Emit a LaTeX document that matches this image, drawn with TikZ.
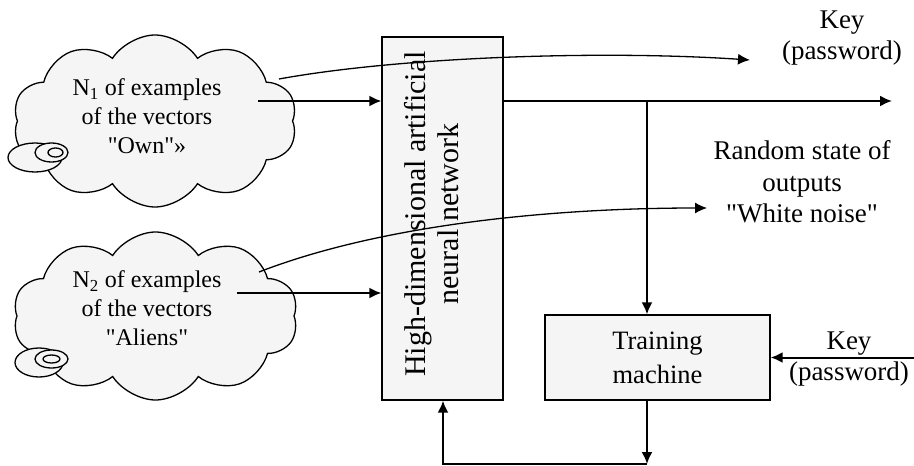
\documentclass[tikz,border=0pt]{standalone}
\usepackage{fontspec}
\setmainfont{Liberation Serif}
\usetikzlibrary{shapes.symbols,arrows.meta}
\definecolor{boxfill}{HTML}{F5F5F5}
\newcommand{\sq}{\textquotedbl}
\begin{document}
\begin{tikzpicture}[x=1pt,y=-1pt,
  cloudshape/.style={cloud, cloud puffs=10, cloud puff arc=115, aspect=1.65, draw, line width=1.3pt, fill=boxfill, inner sep=0pt},
  tailst/.style={draw, line width=1.3pt, fill=boxfill},
  blk/.style={draw, line width=1.3pt, fill=boxfill, inner sep=0pt},
  arr/.style={line width=2pt, -{Latex[length=12pt,width=11pt]}},
  thinarr/.style={line width=1.3pt, -{Latex[length=12pt,width=11pt]}},
  lbl/.style={font=\fontsize{27}{31.5}\selectfont, align=center, inner sep=0pt},
  cloudtxt/.style={font=\fontsize{24}{29}\selectfont, align=center, inner sep=0pt}]
\useasboundingbox (0,0) rectangle (914,466);

% clouds
\node[cloudshape, minimum width=284pt, minimum height=172pt] (c1) at (155,121) {};
\draw[tailst] (35,157.5) ellipse [x radius=27pt, y radius=14.5pt];
\draw[tailst] (51.5,152.5) ellipse [x radius=16.5pt, y radius=9.5pt];
\draw[tailst] (55.5,152.5) ellipse [x radius=7.5pt, y radius=4.5pt];
\node[cloudtxt] (t1) at (147,116) {N\textsubscript{1} of examples\\of the vectors\\\sq Own\sq »};

\node[cloudshape, minimum width=285pt, minimum height=168pt] (c2) at (155.5,316) {};
\draw[tailst] (39,362.5) ellipse [x radius=24pt, y radius=14.5pt];
\draw[tailst] (51.5,359) ellipse [x radius=16.5pt, y radius=9pt];
\draw[tailst] (51.5,359) ellipse [x radius=8.5pt, y radius=4pt];
\node[cloudtxt] (t2) at (147,308) {N\textsubscript{2} of examples\\of the vectors\\\sq Aliens\sq};

% network block
\node[blk, minimum width=121pt, minimum height=363pt] (nn) at (442.5,218.5) {};
\node[rotate=90, font=\fontsize{30}{33}\selectfont, align=center, inner sep=0pt] (nnt) at (432,214) {High-dimensional artificial\\neural network};

% training machine
\node[blk, minimum width=225pt, minimum height=85pt, font=\fontsize{26.5}{34}\selectfont, align=center] (tm) at (657.5,357.5) {Training\\machine};

% labels
\node[lbl] (key1) at (842,38) {Key\\(password)};
\node[lbl] (rnd) at (802,182) {Random state of\\outputs\\\sq White noise\sq};
\node[lbl] (key2) at (849,359) {Key\\(password)};

% coordinates
\coordinate (o1s) at (258,101);
\coordinate (o2s) at (237,293);
\coordinate (k1s) at (279,79);
\coordinate (k1e) at (750,60);
\coordinate (k2s) at (259,272);
\coordinate (k2e) at (707,208);
\coordinate (oute) at (892,101);
\coordinate (br) at (647,101);
\coordinate (keys) at (914,357.5);
\coordinate (fb1) at (647,464);
\coordinate (fb2) at (443,464);

% connectors
\draw[arr] (o1s) -- (o1s -| nn.west);
\draw[arr] (o2s) -- (o2s -| nn.west);
\draw[thinarr] (k1s) .. controls (400,57) and (600,50) .. (k1e);
\draw[thinarr] (k2s) .. controls (380,225) and (550,208) .. (k2e);
\draw[arr] (oute -| nn.east) -- (oute);
\draw[arr] (br) -- (br |- tm.north);
\draw[arr] (keys) -- (keys -| tm.east);
\draw[arr] (fb1 |- tm.south) -- (fb1);
\draw[arr] (fb1) -- (fb2) -- (fb2 |- nn.south);
\end{tikzpicture}
\end{document}
